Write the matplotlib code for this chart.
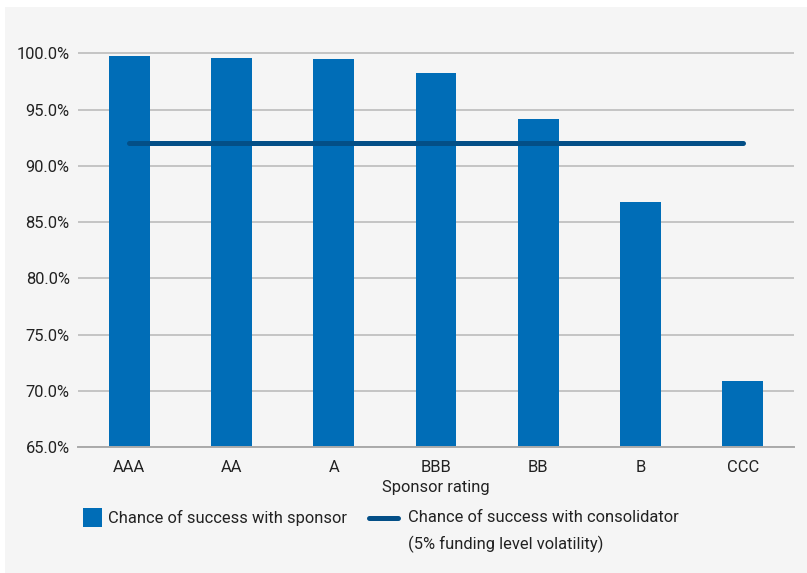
import matplotlib.pyplot as plt
from matplotlib.patches import Rectangle
from matplotlib.lines import Line2D
from matplotlib.ticker import FuncFormatter

plt.rcParams['font.family'] = ['Roboto', 'DejaVu Sans']

ratings = ['AAA', 'AA', 'A', 'BBB', 'BB', 'B', 'CCC']
sponsor = [99.8, 99.6, 99.5, 98.3, 94.2, 86.8, 70.9]
consolidator = [92.0] * len(ratings)

bar_col = '#006db7'
line_col = '#034f87'
txt_col = '#222222'
fs = 11.9

W, H = 807, 573
fig = plt.figure(figsize=(W / 100, H / 100), dpi=100, facecolor='white')
# grey panel behind everything
fig.patches.append(Rectangle((5 / W, 0), 1, (H - 7) / H, transform=fig.transFigure,
                             facecolor='#f5f5f5', edgecolor='none', zorder=-10))

ax = fig.add_axes([78 / W, (H - 447) / H, (794 - 78) / W, (447 - 31) / H])
ax.set_facecolor('none')
x = range(len(ratings))
ax.bar(x, sponsor, width=0.4, color=bar_col, zorder=2)
ax.plot(x, consolidator, color=line_col, lw=3.6, solid_capstyle='round', zorder=3)

ax.set_xlim(-0.5, 6.5)
ax.set_ylim(65, 102)
ax.set_yticks([65, 70, 75, 80, 85, 90, 95, 100])
ax.yaxis.set_major_formatter(FuncFormatter(lambda v, p: f'{v:.1f}%'))
ax.set_xticks(list(x))
ax.set_xticklabels(ratings)
ax.grid(axis='y', color='#c4c4c4', lw=1.4, zorder=0)
for s in ['top', 'right', 'left']:
    ax.spines[s].set_visible(False)
ax.spines['bottom'].set_color('#aaaaaa')
ax.spines['bottom'].set_linewidth(1.4)
ax.tick_params(length=0, labelsize=fs, colors=txt_col)
ax.tick_params(axis='x', pad=9)
ax.tick_params(axis='y', pad=6)
ax.set_xlabel('Sponsor rating', fontsize=fs, color=txt_col, labelpad=4)

# legend drawn by hand
ly = 1 - 518 / H
fig.patches.append(Rectangle((83 / W, 1 - 527 / H), 19 / W, 19 / H, transform=fig.transFigure,
                             facecolor=bar_col, edgecolor='none'))
fig.text(108 / W, ly, 'Chance of success with sponsor', fontsize=fs,
         color=txt_col, va='center', ha='left')
fig.lines.append(Line2D([369 / W, 398 / W], [ly, ly], transform=fig.transFigure,
                        color=line_col, lw=3.6, solid_capstyle='round'))
fig.text(408 / W, ly, 'Chance of success with consolidator', fontsize=fs,
         color=txt_col, va='center', ha='left')
fig.text(408 / W, 1 - 544 / H, '(5% funding level volatility)', fontsize=fs,
         color=txt_col, va='center', ha='left')

fig.savefig('out.png', dpi=100, facecolor='white')
